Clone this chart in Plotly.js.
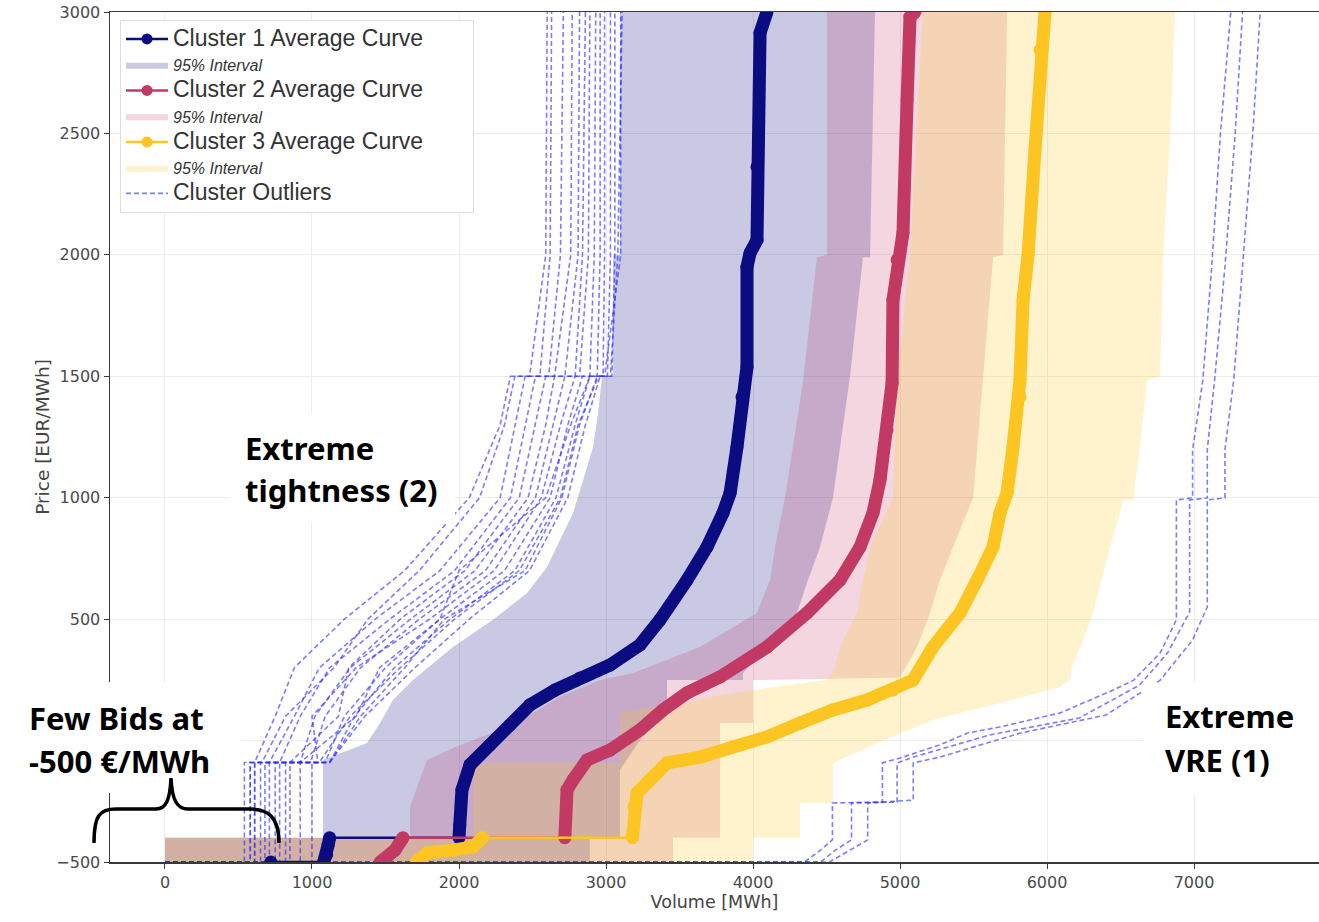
<!DOCTYPE html>
<html><head><meta charset="utf-8">
<script src="https://cdn.plot.ly/plotly-3.0.1.min.js"></script>
<style>html,body{margin:0;padding:0;background:#fff}#chart{width:1319px;height:922px}</style>
</head><body><div id="chart"></div>
<script>
// ---------- DATA (volume in MWh, price in EUR/MWh) ----------
// Cluster average curves
const c1AvgX = [720,1080,1100,1110,1120,2000,2005,2020,2075,2211,2347,2483,2653,2823,3027,3231,3367,3551,3687,3796,3844,3891,3925,3959,3959,3980,4027,4027,4048,4095];
const c1AvgP = [-500,-500,-470,-430,-400,-400,-350,-203,-100,-18,64,147,208,258,311,394,497,661,797,937,1019,1209,1415,1538,1950,2008,2061,2362,2914,3000];
const c2AvgX = [1463,1565,1619,2720,2735,2776,2871,3027,3231,3388,3551,3776,4095,4367,4592,4728,4816,4864,4912,4946,4952,4980,5020,5048,5068,5102];
const c2AvgP = [-500,-451,-400,-400,-203,-162,-80,-39,44,126,196,262,385,525,661,797,937,1073,1279,1472,1814,1979,2090,2638,2979,3000];
const c3AvgX = [1710,1782,1959,2095,2160,3180,3190,3211,3299,3415,3639,3864,4095,4320,4544,4776,4952,5088,5224,5408,5524,5633,5680,5728,5769,5816,5816,5837,5871,5918,5952,5986];
const c3AvgP = [-500,-463,-451,-438,-400,-400,-273,-216,-162,-92,-68,-26,15,72,126,167,208,249,385,525,661,797,937,1019,1209,1415,1485,1814,2000,2432,2844,3000];

// 95% interval boundaries (lower-volume edge and upper-volume edge)
const c1LoX = [0,0,1075,1075,1374,1463,1551,1687,1959,2231,2463,2599,2687,2776,2844,2912,2946,2973,3048,3048,3095,3095];
const c1LoP = [-500,-400,-400,-80,-10,72,167,249,385,497,608,715,826,937,1073,1209,1349,1500,1500,2000,2000,3000];
const c1HiX = [2890,2890,3095,3095,3231,3415,3415,3932,3932,4095,4299,4374,4456,4544,4660,4748,4796,4830];
const c1HiP = [-500,-400,-400,-121,0,167,249,249,278,385,525,661,797,1000,1500,1990,1990,3000];

const c2LoX = [0,0,1667,1667,1782,2007,2279,2503,2687,2959,3184,3639,4027,4116,4150,4218,4340,4435,4503,4503];
const c2LoP = [-500,-400,-400,-273,-80,-18,44,114,180,249,278,385,525,661,797,1000,1480,1990,2000,3000];
const c2HiX = [3456,3456,3776,3776,4000,4000,5000,5116,5204,5272,5361,5497,5565,5633,5701,5728];
const c2HiP = [-500,-400,-400,72,72,249,260,385,525,661,797,1000,1480,1990,2000,3000];

const c3LoX = [0,0,2095,2095,3095,3095,3900,4500,4544,4592,4707,4748,4796,4952,4980,5068,5156];
const c3LoP = [-500,-400,-400,-92,-92,114,200,249,278,385,525,661,797,1000,1480,2000,3000];
const c3HiX = [4000,4000,4320,4320,4544,4544,4884,5224,5680,6088,6156,6170,6265,6313,6429,6497,6517,6585,6633,6680,6769,6789,6837,6871];
const c3HiP = [-500,-400,-400,-257,-257,-92,0,85,155,221,249,303,444,525,797,937,990,990,1209,1485,1500,1993,2486,3000];

// Outlier curves – "extreme tightness" group (price levels shared, volumes per curve)
const tightP = [-500,-500,-90,-90,100,300,500,700,1000,1300,1500,1500,2000,3000];
const tightX = [
  [0,540,540,610,750,880,1220,1630,2070,2280,2350,2480,2590,2600],
  [0,580,580,660,820,1150,1380,1730,2140,2310,2380,2550,2620,2630],
  [0,610,610,710,880,1050,1430,1870,2280,2380,2450,2610,2690,2710],
  [0,650,650,780,920,1120,1530,1970,2350,2450,2520,2650,2760,2770],
  [0,680,680,850,1180,1250,1600,2040,2410,2520,2590,2720,2810,2820],
  [0,710,710,920,1020,1260,1670,2110,2470,2590,2650,2790,2840,2860],
  [0,750,750,990,1090,1330,1730,2180,2520,2640,2720,2820,2880,2890],
  [0,780,780,1040,1000,1300,1800,2240,2560,2690,2790,2890,2920,2930],
  [0,820,820,1090,1220,1500,1870,2310,2620,2740,2840,2940,2960,2960],
  [0,850,850,1120,1290,1560,1940,2380,2660,2790,2890,2980,2990,2990],
  [0,920,920,1120,1330,1630,1900,2450,2700,2820,2940,3010,3030,3030],
  [0,1000,1000,1120,1360,1700,2070,2480,2740,2860,2960,3040,3060,3060],
  [0,580,580,920,1300,1460,1870,2000,2590,2760,2890,2990,3100,3100],
  [0,610,610,1050,1260,1600,1970,2410,2690,2810,2950,3030,3080,3110]
];
// Outlier curves – "extreme VRE" group
const vreAX = [0,4350,4460,4540,4540,4880,4880,5000,5270,5460,5680,6090,6450,6590,6770,6880,6880,6990,6990,7060,7120,7180,7250];
const vreAP = [-500,-500,-451,-409,-257,-253,-92,-72,-18,31,56,114,208,249,361,497,991,999,1196,1485,1950,2502,3000];
const vreBX = [0,4460,4560,4670,4670,4980,4980,5090,5610,6220,6630,6820,6970,6970,7090,7090,7140,7210,7280,7330];
const vreBP = [-500,-500,-451,-409,-257,-253,-92,-68,23,93,229,361,529,991,999,1196,1485,1950,2502,3000];
const vreCX = [0,4520,4660,4780,4780,5090,5090,5270,5820,6400,6770,6990,7090,7090,7210,7210,7270,7330,7400,7450];
const vreCP = [-500,-500,-451,-409,-257,-245,-92,-68,31,105,249,414,550,991,999,1196,1485,1950,2502,3000];

// Axis ticks and labels
const xTickVals = [0,1000,2000,3000,4000,5000,6000,7000];
const yTickVals = [-500,0,500,1000,1500,2000,2500,3000];
const yTickText = ['\u2212500','','500','1000','1500','2000','2500','3000'];
const legendNames = ['Cluster 1 Average Curve','Cluster 2 Average Curve','Cluster 3 Average Curve','95% Interval','Cluster Outliers'];

// ---------- STYLE ----------
const colNavy = '#0b0b82', colCrimson = '#c23a63', colGold = '#fdc521';
const fillNavy = 'rgba(0,0,128,0.21)', fillCrimson = 'rgba(194,52,96,0.2)', fillGold = 'rgba(253,200,30,0.22)';
const outlierLine = {color:'rgba(45,45,245,0.62)', width:1.6, dash:'5px,3px'};

function band(loX, loP, hiX, hiP){
  return {x: loX.concat(hiX.slice().reverse()), y: loP.concat(hiP.slice().reverse())};
}
function thickParts(xs, ps){
  const bx=[], bp=[];
  for (let i=0;i<xs.length;i++){
    if (i>0 && ps[i]===ps[i-1] && Math.abs(xs[i]-xs[i-1])>250){ bx.push(null); bp.push(null); }
    bx.push(xs[i]); bp.push(ps[i]);
  }
  return {x:bx, y:bp};
}
const pad = '\u00a0'.repeat(7);
const bigSpan = (t, extra) => '<span style="font-size:23px">'+t+(extra||'')+'</span>';
const itSpan = t => '<span style="font-size:16px"><i>'+t+'</i></span>';

const traces = [];
// bands
[[c1LoX,c1LoP,c1HiX,c1HiP,fillNavy,2],[c2LoX,c2LoP,c2HiX,c2HiP,fillCrimson,4],[c3LoX,c3LoP,c3HiX,c3HiP,fillGold,6]].forEach(b=>{
  const poly = band(b[0],b[1],b[2],b[3]);
  traces.push({type:'scatter', mode:'lines', x:poly.x, y:poly.y, fill:'toself', fillcolor:b[4],
    line:{width:0, color:b[4]}, name:itSpan(legendNames[3]), legendrank:b[5], hoverinfo:'skip'});
});
// outliers
tightX.forEach((xs,i)=>{
  traces.push({type:'scatter', mode:'lines', x:xs, y:tightP, line:outlierLine,
    name:bigSpan(legendNames[4]), showlegend:i===0, legendrank:7, hoverinfo:'skip'});
});
[[vreAX,vreAP],[vreBX,vreBP],[vreCX,vreCP]].forEach(v=>{
  traces.push({type:'scatter', mode:'lines', x:v[0], y:v[1], line:outlierLine, showlegend:false, hoverinfo:'skip'});
});
// average curves
[[c1AvgX,c1AvgP,colNavy,0,1],[c2AvgX,c2AvgP,colCrimson,1,3],[c3AvgX,c3AvgP,colGold,2,5]].forEach(c=>{
  traces.push({type:'scatter', mode:'lines', x:c[0], y:c[1], line:{color:c[2], width:2.5}, showlegend:false, hoverinfo:'skip'});
  const t = thickParts(c[0], c[1]);
  traces.push({type:'scatter', mode:'lines+markers', x:t.x, y:t.y, connectgaps:false,
    line:{color:c[2], width:13}, marker:{color:c[2], size:13}, showlegend:false, hoverinfo:'skip'});
  traces.push({type:'scatter', mode:'lines+markers', x:[null], y:[null], line:{color:c[2], width:2.5},
    marker:{color:c[2], size:11}, name:bigSpan(legendNames[c[3]], c[3]===0?pad:''), legendrank:c[4]});
});

// ---------- LAYOUT ----------
const L=110, T=12, PW=1209, PH=850;
const px = (x)=> (x-L)/PW, py = (y)=> (T+PH-y)/PH;
const brace = ['M',px(94),py(843),'C',px(94),py(815),px(100),py(809),px(116),py(809),
  'L',px(156),py(809),'C',px(166),py(809),px(170),py(800),px(171),py(778),
  'C',px(172),py(800),px(177),py(809),px(188),py(809),
  'L',px(250),py(809),'C',px(266),py(809),px(279),py(815),px(279),py(843)];
function mkPath(a){ let out='', nums=[]; const flush=()=>{ for(let i=0;i<nums.length;i+=2){ out+=nums[i].toFixed(5)+','+nums[i+1].toFixed(5)+' '; } nums=[]; };
  for (const s of a){ if (typeof s==='string'){ flush(); out+=s; } else nums.push(s); } flush(); return out.trim(); }

const whiteBox = (x0,y0,x1,y1)=>({type:'rect', xref:'paper', yref:'paper', x0:px(x0), x1:px(x1), y0:py(y1), y1:py(y0),
  fillcolor:'#ffffff', line:{width:0}, layer:'above'});
const annFont = {family:'Noto Sans, DejaVu Sans, sans-serif', size:31, color:'#000', weight:'bold'};
const ann = (text, x, y)=>({xref:'paper', yref:'paper', x:px(x), y:py(y), xanchor:'left', yanchor:'middle',
  text:'<b>'+text+'</b>', showarrow:false, font:annFont});

const tickFont = {family:'DejaVu Sans, sans-serif', size:16, color:'#4a4a4a'};
const layout = {
  width:1319, height:922,
  margin:{l:L, r:0, t:T, b:922-T-PH},
  paper_bgcolor:'#ffffff', plot_bgcolor:'#ffffff',
  font:{family:'DejaVu Sans, sans-serif', color:'#444'},
  xaxis:{range:[-374,7850], tickmode:'array', tickvals:xTickVals, showgrid:true, gridcolor:'#ececec', gridwidth:1, zeroline:false,
    showline:true, linecolor:'#3a3a3a', linewidth:1.5, mirror:true, ticks:'outside', ticklen:5, tickcolor:'#3a3a3a',
    tickfont:tickFont,
    title:{text:'Volume [MWh]', font:{family:'DejaVu Sans, sans-serif', size:17.5, color:'#444'}, standoff:5}},
  yaxis:{range:[-500,3000], tickmode:'array', tickvals:yTickVals, ticktext:yTickText, showgrid:true, gridcolor:'#ececec', gridwidth:1, zeroline:false,
    showline:true, linecolor:'#3a3a3a', linewidth:1.5, ticks:'outside', ticklen:5, tickcolor:'#3a3a3a',
    tickfont:tickFont,
    title:{text:'Price [EUR/MWh]', font:{family:'DejaVu Sans, sans-serif', size:18.5, color:'#444'}, standoff:2}},
  showlegend:true,
  legend:{x:px(120), y:py(20), xanchor:'left', yanchor:'top', traceorder:'normal', itemwidth:42,
    bgcolor:'rgba(255,255,255,0.92)', bordercolor:'#dddddd', borderwidth:1,
    font:{family:'Liberation Sans, Arial, sans-serif', size:17.5, color:'#333'}},
  shapes:[
    whiteBox(15,682,240,793),
    whiteBox(230,413,455,523),
    whiteBox(1143,683,1319,795),
    {type:'path', xref:'paper', yref:'paper', path:mkPath(brace), line:{color:'#000', width:3.5}, layer:'above'}
  ],
  annotations:[
    ann('Few Bids at', 27, 718),
    ann('-500 €/MWh', 27, 761),
    ann('Extreme', 243, 448),
    ann('tightness (2)', 243, 490),
    ann('Extreme', 1163, 716),
    ann('VRE (1)', 1163, 760)
  ]
};

Plotly.newPlot('chart', traces, layout, {displayModeBar:false, staticPlot:true});
</script>
</body></html>
